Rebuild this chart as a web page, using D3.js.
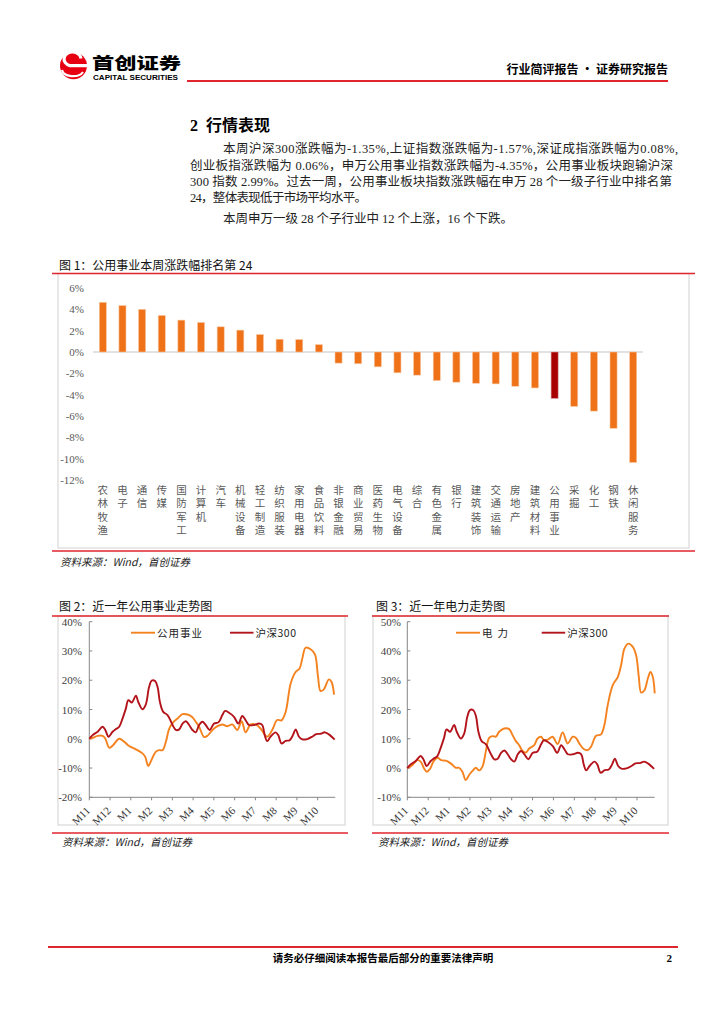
<!DOCTYPE html>
<html>
<head>
<meta charset="utf-8">
<script src="https://cdn.jsdelivr.net/npm/d3@7"></script>
<style>
body{margin:0;background:#fff}
svg{display:block}
</style>
</head>
<body>
<svg id="page" width="724" height="1024"></svg>
<script>
// ---- data ----
const industries = ['农林牧渔','电子','通信','传媒','国防军工','计算机','汽车','机械设备','轻工制造','纺织服装','家用电器','食品饮料','非银金融','商业贸易','医药生物','电气设备','综合','有色金属','银行','建筑装饰','交通运输','房地产','建筑材料','公用事业','采掘','化工','钢铁','休闲服务'];
const weeklyChg = [4.66,4.35,4.0,3.43,2.99,2.77,2.36,2.05,1.64,1.2,1.17,0.69,-1.04,-1.1,-1.39,-1.95,-2.17,-2.68,-2.83,-2.93,-2.99,-3.21,-3.37,-4.35,-5.10,-5.54,-7.15,-10.36];
const highlight = '公用事业';
const barTicks = [6,4,2,0,-2,-4,-6,-8,-10,-12];

const monthLabels = ['M11','M12','M1','M2','M3','M4','M5','M6','M7','M8','M9','M10'];

// [month offset, cumulative %]
const utilSeries = [[0,0],[0.16,0.3],[0.40,1.0],[0.64,1.0],[0.77,0.1],[0.96,-3.1],[1.12,-2.4],[1.44,0],[1.68,-1.0],[1.92,-2.5],[2.24,-3.6],[2.56,-5.0],[2.69,-6.1],[2.84,-9.3],[2.96,-7.8],[3.21,-4.4],[3.37,-3.9],[3.53,-3.9],[3.69,-1.0],[3.85,3.5],[4.04,5.6],[4.25,6.9],[4.49,8.4],[4.73,8.3],[4.94,7.5],[5.13,5.8],[5.29,4.1],[5.53,0.6],[5.69,1.0],[5.93,3.0],[6.17,4.3],[6.41,4.9],[6.65,4.3],[6.89,4.9],[7.13,3.0],[7.34,6.0],[7.53,2.2],[7.77,4.9],[8.01,4.9],[8.25,3.5],[8.57,0.7],[8.81,3.0],[9.05,6.4],[9.26,6.3],[9.46,9.2],[9.70,18.9],[9.94,22.8],[10.13,24.0],[10.26,27.4],[10.42,31.1],[10.66,30.6],[10.87,28.8],[11.01,21.7],[11.14,16.3],[11.30,16.9],[11.54,20.3],[11.67,19.4],[11.79,15.1]];

const hs300Series = [[0,0],[0.16,1.25],[0.40,2.4],[0.64,4.1],[0.77,3.0],[0.93,0.7],[1.12,2.4],[1.28,3.3],[1.44,4.1],[1.60,6.9],[1.76,10.3],[1.88,13.2],[2.05,12.4],[2.24,14.7],[2.37,12.4],[2.56,10.1],[2.72,11.7],[2.88,17.7],[3.01,19.9],[3.17,19.7],[3.29,17.7],[3.40,12.6],[3.56,9.2],[3.77,8.1],[4.01,4.7],[4.17,3.0],[4.33,3.2],[4.49,5.2],[4.65,6.0],[4.81,4.7],[4.97,3.0],[5.13,2.2],[5.29,4.7],[5.45,5.8],[5.61,4.7],[5.80,3.0],[6.01,5.2],[6.22,5.6],[6.41,8.1],[6.54,9.5],[6.73,8.9],[6.97,7.5],[7.18,5.2],[7.37,7.8],[7.56,6.0],[7.69,4.7],[7.93,4.7],[8.17,5.2],[8.33,4.7],[8.45,1.25],[8.57,-0.8],[8.73,0.7],[8.97,2.2],[9.10,1.25],[9.26,-1.6],[9.46,-0.7],[9.65,-0.5],[9.81,1.25],[9.94,3.2],[10.10,0.7],[10.26,-0.2],[10.50,-0.1],[10.74,0.7],[10.93,1.6],[11.14,1.7],[11.35,2.2],[11.54,1.5],[11.82,-0.3]];

const powerSeries = [[0,0],[0.16,0.5],[0.32,1.6],[0.48,2.7],[0.64,2.2],[0.80,-0.1],[0.93,-1.25],[1.09,-0.3],[1.25,2.2],[1.44,3.5],[1.63,2.7],[1.84,2.5],[2.08,1.6],[2.32,0.1],[2.48,0.1],[2.64,-1.25],[2.80,-4.1],[2.96,-2.4],[3.12,-1.0],[3.28,0.1],[3.44,-0.8],[3.60,0.5],[3.76,5.6],[3.92,10.3],[4.08,10.9],[4.24,10.7],[4.40,12.4],[4.64,13.5],[4.88,13.3],[5.04,11.25],[5.20,9.2],[5.36,7.8],[5.52,5.8],[5.68,5.3],[5.84,6.7],[6.08,7.8],[6.24,10.1],[6.40,10.7],[6.56,9.5],[6.75,9.8],[6.96,10.7],[7.20,8.2],[7.44,12.2],[7.68,8.4],[7.92,10.7],[8.08,10.3],[8.24,8.4],[8.45,6.5],[8.64,6.1],[8.80,7.3],[9.04,11.0],[9.28,11.5],[9.44,14.7],[9.60,21.5],[9.84,28.3],[10.08,31.1],[10.24,35.1],[10.40,40.8],[10.59,42.5],[10.80,41.4],[10.96,38.5],[11.09,31.1],[11.20,25.8],[11.36,26.6],[11.52,30.6],[11.65,32.8],[11.76,31.1],[11.85,25.5]];

const utilTicks = [40,30,20,10,0,-10,-20];
const powerTicks = [50,40,30,20,10,0,-10];

// ---- page ----
const CJK = '"Noto Sans CJK SC", sans-serif';
const SERIF = '"Liberation Serif", "Noto Sans CJK SC", serif';
const RED = '#E0262C';
const svg = d3.select('#page');

// header / logo
const lg = svg.append('g');
lg.append('circle').attr('cx', 73.5).attr('cy', 65.7).attr('r', 13.5).attr('fill', '#E60012');
lg.append('path')
  .attr('d', 'M81,58.5 A8.5,7 0 1 0 70,65.7 L87,65.7')
  .attr('fill', 'none').attr('stroke', '#fff').attr('stroke-width', 3.2);
lg.append('path')
  .attr('d', 'M62,70 A11,7 0 0 0 83,72')
  .attr('fill', 'none').attr('stroke', '#fff').attr('stroke-width', 2.2);
lg.append('text').attr('x', 92).attr('y', 68.5).attr('font-family', CJK).attr('font-weight', 900)
  .attr('font-size', 16).attr('textLength', 89).attr('lengthAdjust', 'spacingAndGlyphs').text('首创证券');
lg.append('text').attr('x', 93).attr('y', 80).attr('font-family', '"Liberation Sans", Arial, sans-serif')
  .attr('font-weight', 700).attr('font-size', 6.5).attr('textLength', 85).attr('lengthAdjust', 'spacingAndGlyphs')
  .text('CAPITAL SECURITIES');

svg.append('line').attr('x1', 187).attr('x2', 668).attr('y1', 81).attr('y2', 81)
  .attr('stroke', RED).attr('stroke-width', 2);
svg.append('text').attr('x', 668).attr('y', 74).attr('text-anchor', 'end')
  .attr('font-family', CJK).attr('font-weight', 700).attr('font-size', 12)
  .text('行业简评报告 · 证券研究报告');

// section heading and paragraph
svg.append('text').attr('x', 190).attr('y', 131).attr('font-family', SERIF).attr('font-weight', 700)
  .attr('font-size', 16).text('2');
svg.append('text').attr('x', 206).attr('y', 131).attr('font-family', CJK).attr('font-weight', 700)
  .attr('font-size', 16).text('行情表现');

const paraLines = [
  {x: 223, y: 153, w: 455, t: '本周沪深300涨跌幅为-1.35%,上证指数涨跌幅为-1.57%,深证成指涨跌幅为0.08%,'},
  {x: 190, y: 169.5, w: 483, t: '创业板指涨跌幅为 0.06%，申万公用事业指数涨跌幅为-4.35%，公用事业板块跑输沪深'},
  {x: 190, y: 186, w: 482, t: '300 指数 2.99%。过去一周，公用事业板块指数涨跌幅在申万 28 个一级子行业中排名第'},
  {x: 190, y: 201.5, w: 177, t: '24，整体表现低于市场平均水平。'},
  {x: 223, y: 223, w: 290, t: '本周申万一级 28 个子行业中 12 个上涨，16 个下跌。'}
];
svg.append('g').selectAll('text').data(paraLines).enter().append('text')
  .attr('x', d => d.x).attr('y', d => d.y).attr('textLength', d => d.w)
  .attr('lengthAdjust', 'spacing')
  .attr('font-family', SERIF).attr('font-size', 12.5).attr('fill', '#222')
  .text(d => d.t);

// ---- figure 1: bar chart ----
function figFrame(o) {
  svg.append('text').attr('x', o.tx).attr('y', o.ty).attr('font-family', CJK)
    .attr('font-size', 12).attr('fill', '#111').text(o.title);
  svg.append('rect').attr('x', o.bx).attr('y', o.by).attr('width', o.bw).attr('height', o.bh)
    .attr('fill', 'none').attr('stroke', '#d9d9d9').attr('stroke-width', 1.2);
  svg.append('line').attr('x1', o.lx1).attr('x2', o.lx2).attr('y1', o.by).attr('y2', o.by)
    .attr('stroke', RED).attr('stroke-width', 1.5);
  svg.append('line').attr('x1', o.lx1).attr('x2', o.lx2).attr('y1', o.ly2).attr('y2', o.ly2)
    .attr('stroke', RED).attr('stroke-width', 1.5);
  svg.append('text').attr('x', o.sx).attr('y', o.sy).attr('font-family', CJK)
    .attr('font-style', 'italic').attr('font-size', 10.5).attr('fill', '#222')
    .text('资料来源：Wind，首创证券');
}

figFrame({title: '图 1：公用事业本周涨跌幅排名第 24', tx: 59, ty: 270,
  bx: 58, by: 273.5, bw: 631, bh: 274.5, lx1: 52, lx2: 695, ly2: 551, sx: 60, sy: 566});

const yBar = d3.scaleLinear().domain([-12, 6]).range([480, 288]);
const xBar = d3.scaleBand().domain(industries).range([93, 643]).paddingInner(0.64).paddingOuter(0.32);

svg.append('line').attr('x1', 93).attr('x2', 643).attr('y1', yBar(0)).attr('y2', yBar(0))
  .attr('stroke', '#d9d9d9').attr('stroke-width', 1.5);

svg.append('g').selectAll('rect').data(industries).enter().append('rect')
  .attr('x', d => xBar(d))
  .attr('y', (d, i) => yBar(Math.max(0, weeklyChg[i])))
  .attr('width', xBar.bandwidth())
  .attr('height', (d, i) => Math.abs(yBar(weeklyChg[i]) - yBar(0)))
  .attr('fill', d => d === highlight ? '#A80000' : '#EF7118')
  .attr('stroke', d => d === highlight ? '#d9a0a0' : '#F8C9A4')
  .attr('stroke-width', 0.6);

svg.append('g').selectAll('text').data(barTicks).enter().append('text')
  .attr('x', 84).attr('y', d => yBar(d) + 4).attr('text-anchor', 'end')
  .attr('font-family', SERIF).attr('font-size', 11).attr('fill', '#595959')
  .text(d => d + '%');

const catG = svg.append('g').attr('font-family', CJK).attr('font-size', 10.5)
  .attr('fill', '#595959').attr('text-anchor', 'middle');
industries.forEach(name => {
  const cx = xBar(name) + xBar.bandwidth() / 2;
  name.split('').forEach((ch, j) => {
    catG.append('text').attr('x', cx).attr('y', 493.5 + j * 13.55).text(ch);
  });
});

// ---- figures 2 and 3: line charts ----
function lineChart(o) {
  figFrame(o);
  const x = d3.scaleLinear().domain([0, 11.85]).range([o.x0, o.x1]);
  const y = d3.scaleLinear().domain(o.yDomain).range([o.yBot, o.yTop]);
  const g = svg.append('g');

  g.append('line').attr('x1', o.x0).attr('x2', o.x0).attr('y1', o.yTop).attr('y2', o.yBot)
    .attr('stroke', '#868686');
  g.append('line').attr('x1', o.x0).attr('x2', o.x1).attr('y1', o.yBot).attr('y2', o.yBot)
    .attr('stroke', '#868686');
  g.selectAll('.yt').data(o.ticks).enter().append('line')
    .attr('x1', o.x0).attr('x2', o.x0 + 3).attr('y1', d => y(d)).attr('y2', d => y(d))
    .attr('stroke', '#868686');
  g.selectAll('.yl').data(o.ticks).enter().append('text')
    .attr('x', o.labelX).attr('y', d => y(d) + 4).attr('text-anchor', 'end')
    .attr('font-family', SERIF).attr('font-size', 11).attr('fill', '#404040')
    .text(d => d + '%');
  g.selectAll('.xt').data(monthLabels).enter().append('line')
    .attr('x1', (d, i) => x(i)).attr('x2', (d, i) => x(i))
    .attr('y1', o.yBot).attr('y2', o.yBot + 3).attr('stroke', '#868686');
  g.selectAll('.xl').data(monthLabels).enter().append('text')
    .attr('transform', (d, i) => `translate(${x(i) + 1.5},${o.yBot + 14}) rotate(-45)`)
    .attr('text-anchor', 'end').attr('font-family', SERIF).attr('font-size', 11)
    .attr('fill', '#333').text(d => d);

  const line = d3.line().x(d => x(d[0])).y(d => y(d[1])).curve(d3.curveCatmullRom.alpha(0.5));
  g.append('path').attr('d', line(o.main)).attr('fill', 'none')
    .attr('stroke', '#F4821F').attr('stroke-width', 1.9);
  g.append('path').attr('d', line(hs300Series)).attr('fill', 'none')
    .attr('stroke', '#B3141B').attr('stroke-width', 1.9);

  // legend
  const legend = [
    {x1: o.leg[0], x2: o.leg[0] + 24, color: '#F4821F', label: o.mainName, ls: o.mainLs},
    {x1: o.leg[1], x2: o.leg[1] + 23.5, color: '#B3141B', label: '沪深300', ls: 0.5}
  ];
  legend.forEach(l => {
    g.append('line').attr('x1', l.x1).attr('x2', l.x2).attr('y1', o.legY).attr('y2', o.legY)
      .attr('stroke', l.color).attr('stroke-width', 1.9);
    g.append('text').attr('x', l.x2 + 2).attr('y', o.legY + 4).attr('font-family', CJK)
      .attr('font-size', 10.5).attr('letter-spacing', l.ls).attr('fill', '#222').text(l.label);
  });
}

lineChart({title: '图 2：近一年公用事业走势图', tx: 59, ty: 611,
  bx: 58, by: 616, bw: 287, bh: 209, lx1: 52, lx2: 348, ly2: 833, sx: 62, sy: 846,
  x0: 89.3, x1: 335.3, yTop: 621.7, yBot: 797.3, yDomain: [-20, 40], ticks: utilTicks, labelX: 82,
  main: utilSeries, mainName: '公用事业', mainLs: 1, leg: [131, 230], legY: 632.7});

lineChart({title: '图 3：近一年电力走势图', tx: 376, ty: 611,
  bx: 373, by: 616, bw: 295, bh: 209, lx1: 372, lx2: 669, ly2: 833, sx: 378, sy: 846,
  x0: 407.3, x1: 654.7, yTop: 621.7, yBot: 797.3, yDomain: [-10, 50], ticks: powerTicks, labelX: 401,
  main: powerSeries, mainName: '电力', mainLs: 5, leg: [456, 541.7], legY: 632.7});

// footer
svg.append('line').attr('x1', 48).attr('x2', 678).attr('y1', 947).attr('y2', 947)
  .attr('stroke', RED).attr('stroke-width', 2.2);
svg.append('text').attr('x', 383).attr('y', 962).attr('text-anchor', 'middle')
  .attr('font-family', CJK).attr('font-weight', 700).attr('font-size', 10.5)
  .text('请务必仔细阅读本报告最后部分的重要法律声明');
svg.append('text').attr('x', 672).attr('y', 962).attr('text-anchor', 'end')
  .attr('font-family', SERIF).attr('font-weight', 700).attr('font-size', 11).text('2');
</script>
</body>
</html>
